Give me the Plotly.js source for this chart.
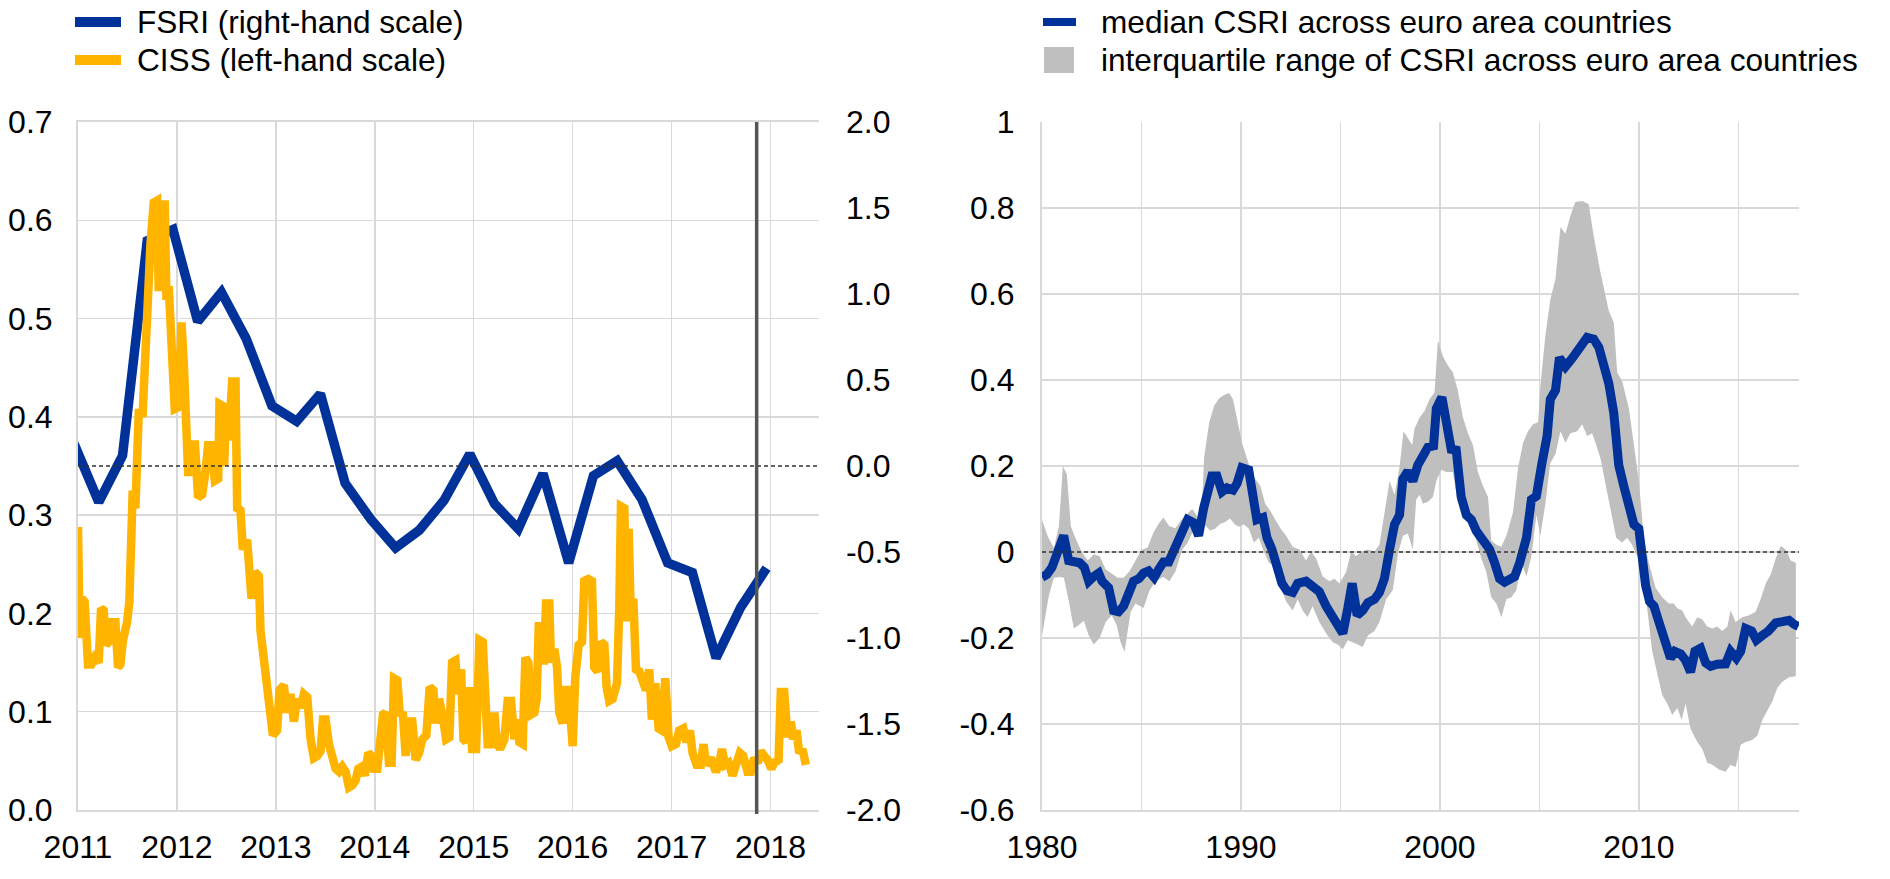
<!DOCTYPE html>
<html>
<head>
<meta charset="utf-8">
<script src="https://cdn.plot.ly/plotly-3.0.1.min.js"></script>
<style>html,body{margin:0;padding:0;background:#fff;}#chart{width:1890px;height:879px;}</style>
</head>
<body>
<div id="chart"></div>
<script>
// ---------------- DATA ----------------
// Left panel: FSRI (right-hand scale), quarterly
const fsriDates = [2010.96,2011.21,2011.45,2011.70,2011.96,2012.21,2012.45,2012.70,2012.96,2013.21,2013.45,2013.70,2013.96,2014.21,2014.45,2014.70,2014.96,2015.21,2015.45,2015.70,2015.96,2016.21,2016.45,2016.70,2016.96,2017.21,2017.45,2017.70,2017.96];
const fsriValues = [0.13,-0.21,0.06,1.31,1.375,0.84,1.01,0.74,0.35,0.26,0.42,-0.10,-0.31,-0.476,-0.373,-0.20,0.07,-0.22,-0.365,-0.044,-0.563,-0.057,0.03,-0.194,-0.563,-0.62,-1.116,-0.82,-0.594];

// Left panel: CISS (left-hand scale)
const cissDates = [2011.000,2011.017,2011.040,2011.067,2011.101,2011.135,2011.169,2011.209,2011.233,2011.260,2011.283,2011.310,2011.344,2011.378,2011.405,2011.428,2011.455,2011.496,2011.519,2011.530,2011.553,2011.580,2011.614,2011.654,2011.688,2011.732,2011.766,2011.799,2011.816,2011.843,2011.877,2011.894,2011.917,2011.934,2011.978,2012.019,2012.046,2012.069,2012.113,2012.153,2012.180,2012.214,2012.255,2012.288,2012.315,2012.349,2012.383,2012.417,2012.430,2012.464,2012.477,2012.497,2012.524,2012.558,2012.592,2012.609,2012.642,2012.666,2012.710,2012.754,2012.787,2012.828,2012.845,2012.889,2012.929,2012.970,2013.013,2013.037,2013.081,2013.108,2013.148,2013.182,2013.216,2013.250,2013.283,2013.317,2013.351,2013.384,2013.418,2013.452,2013.476,2013.503,2013.536,2013.577,2013.604,2013.637,2013.671,2013.705,2013.739,2013.772,2013.806,2013.833,2013.867,2013.900,2013.934,2013.968,2013.992,2014.025,2014.059,2014.083,2014.110,2014.143,2014.170,2014.194,2014.228,2014.251,2014.285,2014.312,2014.346,2014.379,2014.413,2014.447,2014.481,2014.521,2014.555,2014.592,2014.616,2014.649,2014.687,2014.721,2014.754,2014.781,2014.815,2014.838,2014.872,2014.896,2014.923,2014.956,2014.983,2015.024,2015.057,2015.091,2015.141,2015.175,2015.209,2015.232,2015.266,2015.310,2015.343,2015.377,2015.411,2015.434,2015.461,2015.495,2015.522,2015.552,2015.579,2015.613,2015.636,2015.657,2015.690,2015.707,2015.731,2015.764,2015.781,2015.815,2015.842,2015.865,2015.899,2015.926,2015.960,2016.000,2016.027,2016.061,2016.094,2016.118,2016.158,2016.195,2016.219,2016.253,2016.286,2016.320,2016.343,2016.370,2016.404,2016.448,2016.471,2016.488,2016.522,2016.545,2016.566,2016.589,2016.613,2016.640,2016.673,2016.707,2016.741,2016.774,2016.801,2016.835,2016.869,2016.902,2016.936,2016.970,2017.003,2017.044,2017.077,2017.118,2017.152,2017.185,2017.212,2017.253,2017.296,2017.323,2017.347,2017.397,2017.448,2017.481,2017.508,2017.542,2017.576,2017.616,2017.657,2017.690,2017.724,2017.768,2017.801,2017.835,2017.869,2017.902,2017.936,2017.970,2018.010,2018.037,2018.081,2018.104,2018.138,2018.172,2018.205,2018.229,2018.263,2018.290,2018.323,2018.357];
const cissValues = [0.288,0.175,0.215,0.212,0.148,0.148,0.155,0.150,0.205,0.203,0.168,0.171,0.191,0.191,0.145,0.148,0.173,0.191,0.212,0.307,0.325,0.307,0.404,0.404,0.505,0.575,0.618,0.620,0.528,0.616,0.616,0.519,0.533,0.482,0.408,0.410,0.496,0.455,0.344,0.344,0.376,0.318,0.321,0.344,0.371,0.371,0.335,0.337,0.413,0.411,0.350,0.408,0.376,0.436,0.436,0.307,0.305,0.265,0.275,0.215,0.242,0.238,0.182,0.145,0.118,0.076,0.081,0.122,0.127,0.099,0.118,0.090,0.113,0.104,0.118,0.115,0.072,0.053,0.055,0.060,0.092,0.092,0.067,0.048,0.042,0.039,0.044,0.039,0.023,0.025,0.030,0.042,0.044,0.035,0.058,0.055,0.042,0.042,0.083,0.097,0.099,0.048,0.048,0.134,0.132,0.099,0.097,0.055,0.090,0.090,0.051,0.058,0.072,0.076,0.125,0.122,0.088,0.113,0.095,0.072,0.074,0.150,0.152,0.118,0.143,0.072,0.069,0.125,0.062,0.062,0.173,0.171,0.067,0.067,0.099,0.069,0.062,0.072,0.111,0.111,0.072,0.092,0.069,0.067,0.155,0.150,0.097,0.099,0.113,0.187,0.187,0.148,0.210,0.210,0.150,0.164,0.145,0.099,0.088,0.122,0.122,0.065,0.136,0.168,0.171,0.233,0.235,0.233,0.145,0.141,0.171,0.168,0.125,0.111,0.113,0.129,0.205,0.309,0.307,0.192,0.286,0.192,0.215,0.143,0.141,0.129,0.122,0.143,0.092,0.129,0.083,0.081,0.134,0.074,0.065,0.067,0.081,0.083,0.069,0.081,0.058,0.046,0.046,0.067,0.046,0.053,0.039,0.046,0.062,0.046,0.048,0.035,0.048,0.058,0.055,0.039,0.039,0.053,0.048,0.060,0.055,0.051,0.042,0.048,0.051,0.120,0.120,0.074,0.090,0.072,0.081,0.058,0.062,0.046];

const cutoffDate = 2017.86; // vertical marker line

// Right panel: median CSRI and interquartile range
const csriDates = [1980.0,1980.25,1980.5,1980.75,1981.09,1981.34,1981.59,1981.89,1982.13,1982.35,1982.6,1982.85,1983.02,1983.35,1983.6,1983.85,1984.1,1984.36,1984.6,1984.87,1985.11,1985.36,1985.64,1985.86,1986.11,1986.37,1986.62,1986.87,1987.12,1987.32,1987.62,1987.87,1988.12,1988.32,1988.54,1988.79,1989.05,1989.3,1989.6,1989.8,1990.05,1990.39,1990.6,1990.8,1991.1,1991.31,1991.56,1991.81,1992.06,1992.31,1992.6,1992.85,1993.27,1993.6,1993.94,1994.28,1994.61,1994.92,1995.12,1995.37,1995.59,1995.84,1996.12,1996.38,1996.71,1996.96,1997.21,1997.47,1997.72,1997.97,1998.14,1998.39,1998.64,1998.89,1999.14,1999.4,1999.68,1999.82,2000.1,2000.32,2000.57,2000.82,2001.07,2001.33,2001.58,2001.83,2002.16,2002.5,2002.75,2003.0,2003.25,2003.51,2003.76,2004.01,2004.35,2004.6,2004.85,2005.13,2005.39,2005.55,2005.81,2006.01,2006.31,2006.64,2006.95,2007.18,2007.4,2007.73,2007.99,2008.24,2008.49,2008.74,2008.99,2009.24,2009.5,2009.75,2010.0,2010.17,2010.34,2010.54,2010.76,2010.97,2011.17,2011.38,2011.59,2011.81,2012.1,2012.35,2012.6,2012.82,2013.1,2013.36,2013.61,2013.94,2014.36,2014.61,2014.9,2015.12,2015.37,2015.67,2015.91,2016.21,2016.51,2016.88,2017.21,2017.55,2017.8,2018.02];
const csriMedian = [-0.059,-0.052,-0.036,-0.010,0.038,-0.020,-0.020,-0.025,-0.036,-0.068,-0.057,-0.049,-0.068,-0.083,-0.136,-0.139,-0.126,-0.099,-0.068,-0.062,-0.049,-0.044,-0.059,-0.041,-0.023,-0.023,0.001,0.033,0.051,0.075,0.068,0.038,0.101,0.138,0.177,0.177,0.140,0.149,0.144,0.159,0.196,0.191,0.122,0.075,0.080,0.033,0.006,-0.041,-0.073,-0.090,-0.094,-0.073,-0.068,-0.080,-0.092,-0.126,-0.150,-0.168,-0.189,-0.131,-0.073,-0.147,-0.136,-0.118,-0.110,-0.094,-0.062,0.006,0.064,0.086,0.170,0.188,0.165,0.202,0.228,0.244,0.247,0.334,0.360,0.313,0.239,0.237,0.128,0.086,0.075,0.049,0.027,0.006,-0.025,-0.062,-0.070,-0.062,-0.057,-0.025,0.033,0.122,0.130,0.207,0.270,0.355,0.376,0.452,0.431,0.450,0.473,0.482,0.499,0.495,0.476,0.434,0.392,0.323,0.202,0.154,0.107,0.064,0.054,-0.025,-0.078,-0.115,-0.126,-0.157,-0.189,-0.221,-0.247,-0.231,-0.237,-0.252,-0.279,-0.231,-0.224,-0.258,-0.266,-0.261,-0.260,-0.231,-0.247,-0.231,-0.178,-0.184,-0.205,-0.194,-0.184,-0.165,-0.163,-0.159,-0.168,-0.173];

const iqrUpperDates = [1980.0,1980.3,1980.6,1980.85,1981.05,1981.25,1981.45,1981.7,1982.0,1982.3,1982.6,1982.9,1983.2,1983.5,1983.8,1984.1,1984.4,1984.7,1985.0,1985.3,1985.6,1985.85,1986.1,1986.4,1986.7,1987.0,1987.3,1987.55,1987.85,1988.05,1988.15,1988.4,1988.65,1988.9,1989.15,1989.4,1989.6,1989.8,1990.05,1990.3,1990.52,1990.72,1990.97,1991.22,1991.47,1991.73,1991.98,1992.27,1992.6,1992.94,1993.27,1993.52,1993.78,1994.11,1994.45,1994.7,1994.95,1995.29,1995.54,1995.79,1996.04,1996.38,1996.71,1996.96,1997.21,1997.47,1997.72,1997.97,1998.17,1998.39,1998.61,1998.72,1998.98,1999.23,1999.48,1999.73,1999.9,2000.15,2000.4,2000.65,2000.9,2001.16,2001.41,2001.66,2001.91,2002.16,2002.42,2002.58,2002.84,2003.09,2003.34,2003.67,2003.93,2004.18,2004.43,2004.68,2004.94,2005.05,2005.3,2005.55,2005.81,2006.06,2006.31,2006.56,2006.81,2007.15,2007.48,2007.73,2008.07,2008.49,2008.74,2008.91,2009.16,2009.5,2009.75,2010.0,2010.25,2010.5,2010.84,2011.17,2011.51,2011.76,2011.93,2012.18,2012.35,2012.68,2012.94,2013.19,2013.44,2013.69,2013.94,2014.19,2014.45,2014.61,2014.87,2015.2,2015.54,2015.87,2016.12,2016.38,2016.63,2016.88,2017.13,2017.38,2017.63,2017.89];
const iqrUpper = [0.075,0.035,0.01,0.06,0.2,0.18,0.06,0.03,0.0,-0.02,-0.005,-0.01,-0.04,-0.05,-0.06,-0.06,-0.045,-0.02,0.005,0.01,0.045,0.065,0.08,0.06,0.055,0.075,0.09,0.10,0.08,0.12,0.22,0.30,0.34,0.357,0.365,0.37,0.355,0.31,0.254,0.218,0.186,0.17,0.154,0.112,0.096,0.075,0.055,0.038,0.012,0.006,-0.020,0.001,-0.015,-0.057,-0.068,-0.062,-0.073,-0.046,0.001,-0.010,0.001,0.006,0.001,0.017,0.091,0.165,0.133,0.196,0.281,0.265,0.249,0.286,0.313,0.328,0.355,0.371,0.492,0.455,0.434,0.418,0.376,0.313,0.276,0.249,0.186,0.154,0.128,0.027,0.017,0.012,0.038,0.091,0.196,0.254,0.281,0.297,0.302,0.386,0.503,0.587,0.635,0.756,0.740,0.782,0.814,0.816,0.809,0.735,0.650,0.561,0.534,0.418,0.397,0.334,0.249,0.165,0.033,-0.025,-0.083,-0.105,-0.120,-0.120,-0.131,-0.136,-0.152,-0.173,-0.152,-0.157,-0.173,-0.178,-0.173,-0.184,-0.173,-0.136,-0.163,-0.152,-0.147,-0.139,-0.110,-0.073,-0.052,-0.015,0.014,0.006,-0.020,-0.025];

const iqrLowerDates = [1980.0,1980.15,1980.35,1980.6,1980.9,1981.1,1981.35,1981.6,1981.85,1982.1,1982.35,1982.6,1982.9,1983.2,1983.5,1983.75,1983.95,1984.15,1984.45,1984.7,1985.1,1985.4,1985.7,1986.1,1986.4,1986.7,1987.05,1987.3,1987.6,1987.95,1988.2,1988.45,1988.7,1988.95,1989.2,1989.45,1989.7,1989.9,1990.15,1990.4,1990.65,1990.9,1991.15,1991.4,1991.65,1991.9,1992.27,1992.6,1992.85,1993.1,1993.35,1993.6,1993.94,1994.28,1994.61,1994.87,1995.12,1995.37,1995.62,1995.87,1996.12,1996.38,1996.71,1996.96,1997.3,1997.63,1997.89,1998.14,1998.39,1998.64,1998.81,1998.98,1999.14,1999.4,1999.65,1999.82,2000.07,2000.32,2000.65,2000.9,2001.16,2001.41,2001.58,2001.83,2002.08,2002.33,2002.58,2002.84,2003.09,2003.34,2003.59,2003.84,2004.1,2004.35,2004.6,2004.85,2005.05,2005.3,2005.55,2005.81,2006.06,2006.31,2006.56,2006.9,2007.15,2007.4,2007.65,2007.82,2008.07,2008.32,2008.57,2008.86,2009.16,2009.41,2009.66,2009.92,2010.17,2010.42,2010.67,2010.92,2011.17,2011.43,2011.68,2011.93,2012.15,2012.35,2012.6,2012.94,2013.19,2013.44,2013.69,2014.03,2014.36,2014.61,2014.87,2015.12,2015.37,2015.7,2015.96,2016.21,2016.46,2016.71,2016.96,2017.21,2017.55,2017.89];
const iqrLower = [-0.195,-0.16,-0.10,-0.06,-0.058,-0.06,-0.115,-0.178,-0.17,-0.16,-0.194,-0.215,-0.20,-0.163,-0.147,-0.17,-0.21,-0.232,-0.14,-0.12,-0.13,-0.09,-0.068,-0.058,-0.068,-0.046,0.006,0.02,0.049,0.059,0.062,0.05,0.054,0.065,0.07,0.078,0.064,0.059,0.064,0.054,0.022,0.033,0.001,-0.025,-0.031,-0.07,-0.115,-0.136,-0.110,-0.136,-0.152,-0.126,-0.163,-0.189,-0.210,-0.215,-0.226,-0.205,-0.210,-0.215,-0.221,-0.194,-0.184,-0.163,-0.110,-0.089,-0.004,0.038,0.043,0.006,0.122,0.133,0.112,0.117,0.128,0.165,0.191,0.186,0.186,0.117,0.101,0.070,0.054,0.027,-0.015,-0.046,-0.105,-0.120,-0.152,-0.110,-0.105,-0.089,-0.025,-0.057,-0.010,0.086,0.038,0.112,0.207,0.228,0.281,0.254,0.276,0.281,0.297,0.270,0.276,0.254,0.218,0.165,0.101,0.033,0.022,0.033,0.017,-0.010,-0.025,-0.131,-0.231,-0.279,-0.332,-0.353,-0.379,-0.363,-0.390,-0.353,-0.411,-0.442,-0.458,-0.490,-0.495,-0.506,-0.511,-0.495,-0.500,-0.448,-0.442,-0.437,-0.427,-0.390,-0.369,-0.347,-0.316,-0.302,-0.291,-0.289];

// Series names (legend texts)
const leftNames = ["FSRI (right-hand scale)", "CISS (left-hand scale)"];
const rightNames = ["median CSRI across euro area countries", "interquartile range of CSRI across euro area countries"];

// Tick labels
const leftXTicks = [2011,2012,2013,2014,2015,2016,2017,2018];
const leftXLabels = ["2011","2012","2013","2014","2015","2016","2017","2018"];
const cissTicks = [0,0.1,0.2,0.3,0.4,0.5,0.6,0.7];
const cissLabels = ["0.0","0.1","0.2","0.3","0.4","0.5","0.6","0.7"];
const fsriTicks = [-2,-1.5,-1,-0.5,0,0.5,1,1.5,2];
const fsriLabels = ["-2.0","-1.5","-1.0","-0.5","0.0","0.5","1.0","1.5","2.0"];
const rightXTicks = [1980,1985,1990,1995,2000,2005,2010,2015];
const rightXLabels = ["1980","","1990","","2000","","2010",""];
const csriTicks = [-0.6,-0.4,-0.2,0,0.2,0.4,0.6,0.8,1];
const csriLabels = ["-0.6","-0.4","-0.2","0","0.2","0.4","0.6","0.8","1"];

// ---------------- STYLE / LAYOUT ----------------
const W = 1890, H = 879;
const px = v => v / W;
const py = v => 1 - v / H;
const BLUE = '#003299', YELLOW = '#FFB400', GREY = '#BFBFBF', GRID = '#D9D9D9';
const FONT = 'Liberation Sans, Arial, Helvetica, sans-serif';
const FS = 32;
const LFS = 31.6;

const traces = [
  {x: fsriDates, y: fsriValues, xaxis: 'x', yaxis: 'y', type: 'scatter', mode: 'lines',
   name: leftNames[0], line: {color: BLUE, width: 9.5}},
  {x: cissDates, y: cissValues, xaxis: 'x', yaxis: 'y2', type: 'scatter', mode: 'lines',
   name: leftNames[1], line: {color: YELLOW, width: 8.5}},
  {x: iqrUpperDates.concat(iqrLowerDates.slice().reverse()),
   y: iqrUpper.concat(iqrLower.slice().reverse()),
   xaxis: 'x2', yaxis: 'y3', type: 'scatter', mode: 'lines', fill: 'toself',
   fillcolor: GREY, line: {width: 0, color: GREY}, name: rightNames[1]},
  {x: csriDates, y: csriMedian, xaxis: 'x2', yaxis: 'y3', type: 'scatter', mode: 'lines',
   name: rightNames[0], line: {color: BLUE, width: 9}}
];

const axFont = {family: FONT, size: FS, color: '#000'};
const leftDom = [px(78), px(819)];
const rightDom = [px(1042), px(1799)];
const yDom = [py(810), py(122)];

// Legend entries drawn as paper-anchored swatches + text
const legendRowsY = [22, 60];
const shapes = [
  {type: 'line', xref: 'x', yref: 'y', x0: 2011, x1: 2018.49, y0: 0, y1: 0,
   line: {color: '#333', width: 1.6, dash: '4px,3px'}, layer: 'above'},
  {type: 'line', xref: 'x', yref: 'paper', x0: cutoffDate, x1: cutoffDate, y0: py(814), y1: py(122),
   line: {color: '#555555', width: 3.5}, layer: 'above'},
  {type: 'line', xref: 'x2', yref: 'y3', x0: 1980, x1: 2018.05, y0: 0, y1: 0,
   line: {color: '#333', width: 1.6, dash: '4px,3px'}, layer: 'above'},
  // legend swatches
  {type: 'line', xref: 'paper', yref: 'paper', x0: px(75), x1: px(121), y0: py(legendRowsY[0]), y1: py(legendRowsY[0]),
   line: {color: BLUE, width: 10}},
  {type: 'line', xref: 'paper', yref: 'paper', x0: px(75), x1: px(121), y0: py(legendRowsY[1]), y1: py(legendRowsY[1]),
   line: {color: YELLOW, width: 10}},
  {type: 'line', xref: 'paper', yref: 'paper', x0: px(1043), x1: px(1076), y0: py(legendRowsY[0]), y1: py(legendRowsY[0]),
   line: {color: BLUE, width: 8}},
  {type: 'rect', xref: 'paper', yref: 'paper', x0: px(1044), x1: px(1074), y0: py(legendRowsY[1] + 13), y1: py(legendRowsY[1] - 13),
   fillcolor: GREY, line: {width: 0}}
];
const annotations = [
  {text: leftNames[0], x: px(135), y: py(legendRowsY[0])},
  {text: leftNames[1], x: px(135), y: py(legendRowsY[1])},
  {text: rightNames[0], x: px(1099), y: py(legendRowsY[0])},
  {text: rightNames[1], x: px(1099), y: py(legendRowsY[1])}
].map(a => Object.assign({xref: 'paper', yref: 'paper', xanchor: 'left', yanchor: 'middle', showarrow: false,
  font: {family: FONT, size: LFS, color: '#000'}}, a));

const layout = {
  width: W, height: H,
  margin: {l: 0, r: 0, t: 0, b: 0},
  paper_bgcolor: '#fff', plot_bgcolor: '#fff',
  font: {family: FONT, size: FS, color: '#000'},
  showlegend: false,
  xaxis: {domain: leftDom, anchor: 'y', range: [2011, 2018.49], tickvals: leftXTicks, ticktext: leftXLabels,
    showgrid: true, gridcolor: GRID, gridwidth: 1.5, zeroline: false, showline: true, linecolor: GRID, linewidth: 2,
    mirror: true, ticks: '', ticklabelstandoff: 8, tickfont: axFont},
  yaxis: {domain: yDom, anchor: 'x', side: 'right', range: [-2, 2], tickvals: fsriTicks, ticktext: fsriLabels,
    showgrid: false, zeroline: false, showline: false, ticks: '', ticklabelstandoff: 26, tickfont: axFont},
  yaxis2: {domain: yDom, anchor: 'x', overlaying: 'y', side: 'left', range: [0, 0.7], tickvals: cissTicks, ticktext: cissLabels,
    showgrid: true, gridcolor: GRID, gridwidth: 1.5, zeroline: false, showline: true, linecolor: GRID, linewidth: 2,
    ticks: '', ticklabelstandoff: 17, tickfont: axFont},
  xaxis2: {domain: rightDom, anchor: 'y3', range: [1980, 2018.05], tickvals: rightXTicks, ticktext: rightXLabels,
    showgrid: true, gridcolor: GRID, gridwidth: 1.5, zeroline: false, showline: true, linecolor: GRID, linewidth: 2,
    ticks: '', ticklabelstandoff: 8, tickfont: axFont},
  yaxis3: {domain: yDom, anchor: 'x2', range: [-0.6, 1], tickvals: csriTicks, ticktext: csriLabels,
    showgrid: true, gridcolor: GRID, gridwidth: 1.5, zeroline: false, showline: true, linecolor: GRID, linewidth: 2,
    ticks: '', ticklabelstandoff: 19, tickfont: axFont},
  shapes: shapes,
  annotations: annotations
};

Plotly.newPlot('chart', traces, layout, {displayModeBar: false, staticPlot: true});
</script>
</body>
</html>
